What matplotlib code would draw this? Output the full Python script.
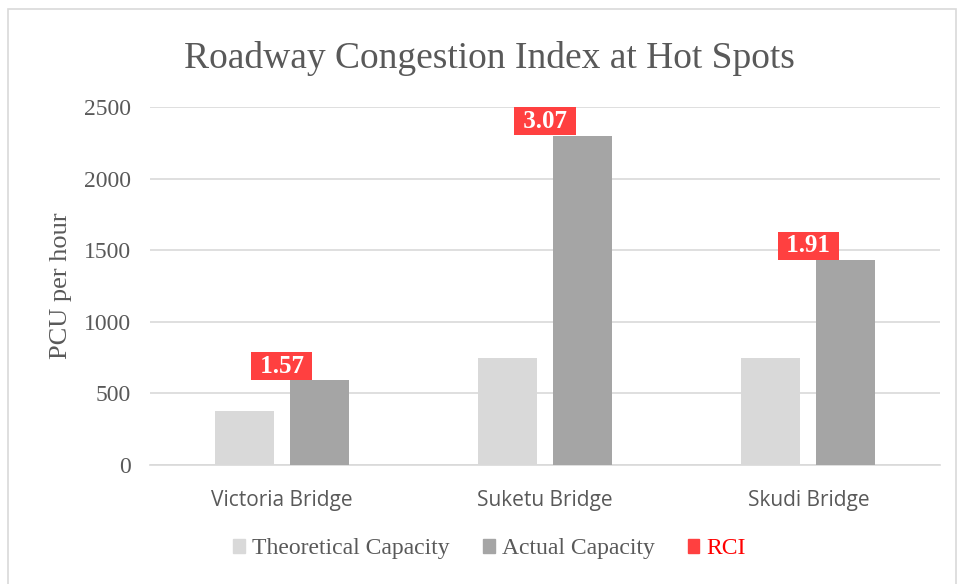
import matplotlib.pyplot as plt
from matplotlib.patches import Rectangle, Patch
import numpy as np

bridges = ["Victoria Bridge", "Suketu Bridge", "Skudi Bridge"]
theoretical = [375, 750, 750]
actual = [590, 2300, 1430]
rci = [1.57, 3.07, 1.91]

serif = "Liberation Serif"
grey_txt = "#595959"

fig = plt.figure(figsize=(9.58, 5.84), dpi=100)
ax = fig.add_axes([0.1566, 0.2038, 0.8246, 0.613])

x = np.arange(len(bridges))
w = 0.224
off = 0.142
ax.bar(x - off, theoretical, w, color="#d9d9d9", zorder=3)
ax.bar(x + off, actual, w, color="#a5a5a5", zorder=3)

# RCI labels sit on top of the actual bars, centred on the category
for i in range(len(bridges)):
    ax.annotate(f" {rci[i]:.2f} ", (x[i], actual[i]), xytext=(0, 2), textcoords="offset points",
                ha="center", va="bottom", color="white", fontweight="bold",
                fontsize=18, family=serif,
                bbox=dict(boxstyle="square,pad=0.1", fc="#ff4040", ec="none"), zorder=5)

ax.set_xlim(-0.5, 2.5)
ax.set_ylim(0, 2500)
ax.set_yticks(range(0, 2501, 500))
ax.yaxis.grid(True, color="#d9d9d9", lw=1.2, zorder=0)
for s in ["top", "right", "left"]:
    ax.spines[s].set_visible(False)
ax.spines["bottom"].set_color("#d9d9d9")
ax.spines["bottom"].set_linewidth(1.2)
ax.tick_params(length=0)
ax.tick_params(axis="y", pad=14)
ax.tick_params(axis="x", pad=18)
ax.set_xticks(x)
ax.set_xticklabels(bridges, family="Open Sans", fontsize=15, color=grey_txt)
for t in ax.get_yticklabels():
    t.set_family(serif)
    t.set_fontsize(17)
    t.set_color(grey_txt)

ax.set_ylabel("PCU per hour", family=serif, fontsize=19, color=grey_txt, labelpad=8)
fig.text(0.511, 0.9, "Roadway Congestion Index at Hot Spots", ha="center", va="center",
         family=serif, fontsize=27, color=grey_txt)

handles = [Patch(color="#d9d9d9"), Patch(color="#a5a5a5"), Patch(color="#ff4040")]
leg = fig.legend(handles, ["Theoretical Capacity", "Actual Capacity", "RCI"],
                 loc="center", bbox_to_anchor=(0.511, 0.06), ncol=3, frameon=False,
                 prop={"family": serif, "size": 17}, handlelength=0.5, handleheight=0.5,
                 handletextpad=0.3, columnspacing=1.4)
for t in leg.get_texts():
    t.set_color(grey_txt)
leg.get_texts()[2].set_color("#ff0000")

fig.patches.append(Rectangle((0.008, -0.01), 0.99, 0.995, transform=fig.transFigure,
                             fill=False, ec="#d9d9d9", lw=1.2))

fig.savefig("out.png", dpi=100)
